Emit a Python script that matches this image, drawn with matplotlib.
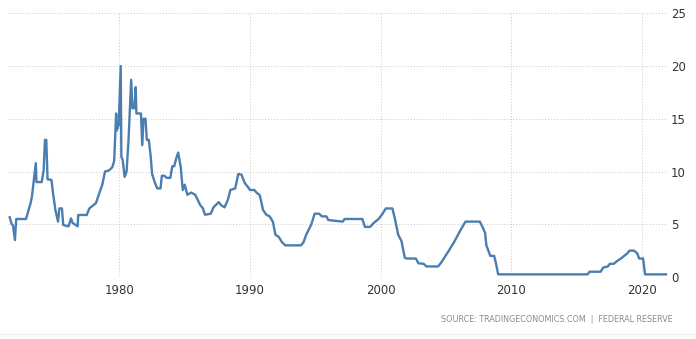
import matplotlib.pyplot as plt

# Approximate policy rate path
years = [
  1971.6, 1971.75, 1971.85, 1972.0, 1972.1, 1972.85, 1973.2, 1973.3, 1973.6, 1973.65,
  1974.05, 1974.2, 1974.3, 1974.4, 1974.5, 1974.8, 1974.9, 1975.1, 1975.3, 1975.4,
  1975.6, 1975.7, 1976.1, 1976.3, 1976.4, 1976.8, 1976.85, 1977.5, 1977.7, 1978.2,
  1978.45, 1978.7, 1978.9, 1979.2, 1979.45, 1979.6, 1979.75, 1979.8, 1979.95, 1980.1,
  1980.15, 1980.25, 1980.4, 1980.55, 1980.7, 1980.9, 1981.0, 1981.15, 1981.25, 1981.3,
  1981.65, 1981.75, 1981.85, 1982.0, 1982.1, 1982.25, 1982.4, 1982.5, 1982.7, 1982.9,
  1983.15, 1983.25, 1983.45, 1983.6, 1983.9, 1984.05, 1984.2, 1984.35, 1984.5, 1984.7,
  1984.85, 1985.0, 1985.2, 1985.5, 1985.8, 1986.0, 1986.2, 1986.4, 1986.55, 1987.0,
  1987.2, 1987.6, 1987.8, 1988.05, 1988.3, 1988.5, 1988.87, 1989.1, 1989.35, 1989.6,
  1989.8, 1990.0, 1990.33, 1990.5, 1990.75, 1991.0, 1991.25, 1991.5, 1991.75, 1991.95,
  1992.2, 1992.45, 1992.7, 1993.9, 1994.1, 1994.3, 1994.5, 1994.7, 1994.95, 1995.3,
  1995.5, 1995.85, 1996.0, 1997.1, 1997.25, 1998.6, 1998.8, 1999.2, 1999.45, 1999.85,
  2000.15, 2000.4, 2000.9, 2001.1, 2001.35, 2001.6, 2001.85, 2002.0, 2002.7, 2002.9,
  2003.3, 2003.5, 2004.4, 2004.6, 2005.1, 2005.6, 2006.1, 2006.5, 2007.6, 2007.8,
  2008.0, 2008.1, 2008.4, 2008.7, 2008.85, 2009.0, 2015.85, 2016.0, 2016.85, 2017.05,
  2017.4, 2017.55, 2017.85, 2018.1, 2018.4, 2018.65, 2018.9, 2019.05, 2019.4, 2019.65,
  2019.8, 2020.1, 2020.25, 2021.85,
]
rates = [
  5.66, 5.02, 4.9, 3.5, 5.5, 5.5, 7.0, 7.6, 10.8, 9.0,
  9.0, 10.1, 13.0, 13.0, 9.26, 9.2, 8.1, 6.35, 5.25, 6.5,
  6.5, 4.93, 4.8, 5.56, 5.15, 4.8, 5.88, 5.88, 6.5, 7.0,
  7.9, 8.8, 10.0, 10.1, 10.4, 11.0, 15.5, 13.9, 14.4, 20.0,
  11.4, 11.1, 9.5, 10.0, 13.0, 18.7, 16.0, 16.0, 18.0, 15.5,
  15.5, 12.5, 15.0, 15.0, 13.0, 13.0, 11.4, 9.8, 9.0, 8.4,
  8.4, 9.6, 9.6, 9.4, 9.4, 10.5, 10.5, 11.25, 11.8, 10.4,
  8.25, 8.75, 7.8, 8.0, 7.8, 7.3, 6.8, 6.5, 5.9, 6.0,
  6.6, 7.1, 6.8, 6.6, 7.3, 8.25, 8.4, 9.76, 9.7, 8.9,
  8.6, 8.25, 8.25, 8.0, 7.75, 6.35, 5.9, 5.75, 5.25, 4.0,
  3.8, 3.3, 3.0, 3.0, 3.3, 4.0, 4.5, 5.0, 6.0, 6.0,
  5.75, 5.75, 5.4, 5.25, 5.5, 5.5, 4.75, 4.75, 5.1, 5.5,
  6.0, 6.5, 6.5, 5.5, 4.0, 3.4, 1.83, 1.75, 1.75, 1.3,
  1.25, 1.0, 1.0, 1.3, 2.25, 3.25, 4.4, 5.25, 5.25, 4.75,
  4.2, 3.0, 2.0, 2.0, 1.2, 0.25, 0.25, 0.5, 0.5, 0.9,
  1.0, 1.25, 1.25, 1.5, 1.75, 2.0, 2.25, 2.5, 2.5, 2.25,
  1.75, 1.75, 0.25, 0.25,
]
x_ticks = [1980, 1990, 2000, 2010, 2020]
y_ticks = [0, 5, 10, 15, 20, 25]

fig = plt.figure(figsize=(6.96, 3.39), dpi=100)
fig.patch.set_facecolor("white")
ax = fig.add_axes([8 / 696, 1 - 277 / 339, 659 / 696, 263.7 / 339])

ax.plot(years, rates, color="#4a7db0", linewidth=1.7, solid_joinstyle="round", clip_on=False, zorder=3)

ax.set_xlim(1971.47, 2021.93)
ax.set_ylim(0, 25)
ax.set_xticks(x_ticks)
ax.set_yticks(y_ticks)
ax.yaxis.tick_right()
ax.grid(True, color="#c8c8c8", linewidth=0.7, linestyle=(0, (1, 2)))
ax.set_axisbelow(True)
ax.tick_params(axis="both", length=0, colors="#333333", labelsize=8.5)
ax.tick_params(axis="x", pad=5)
ax.tick_params(axis="y", pad=3)
for spine in ax.spines.values():
  spine.set_visible(False)

fig.text(673 / 696, 1 - 319 / 339, "SOURCE: TRADINGECONOMICS.COM  |  FEDERAL RESERVE",
         ha="right", va="center", fontsize=5.8, color="#8a8a8a")
fig.add_artist(plt.Line2D([0, 1], [1 - 333.5 / 339] * 2, color="#ececec", linewidth=0.8))

fig.savefig("out.png", dpi=100, facecolor="white")
plt.close()
